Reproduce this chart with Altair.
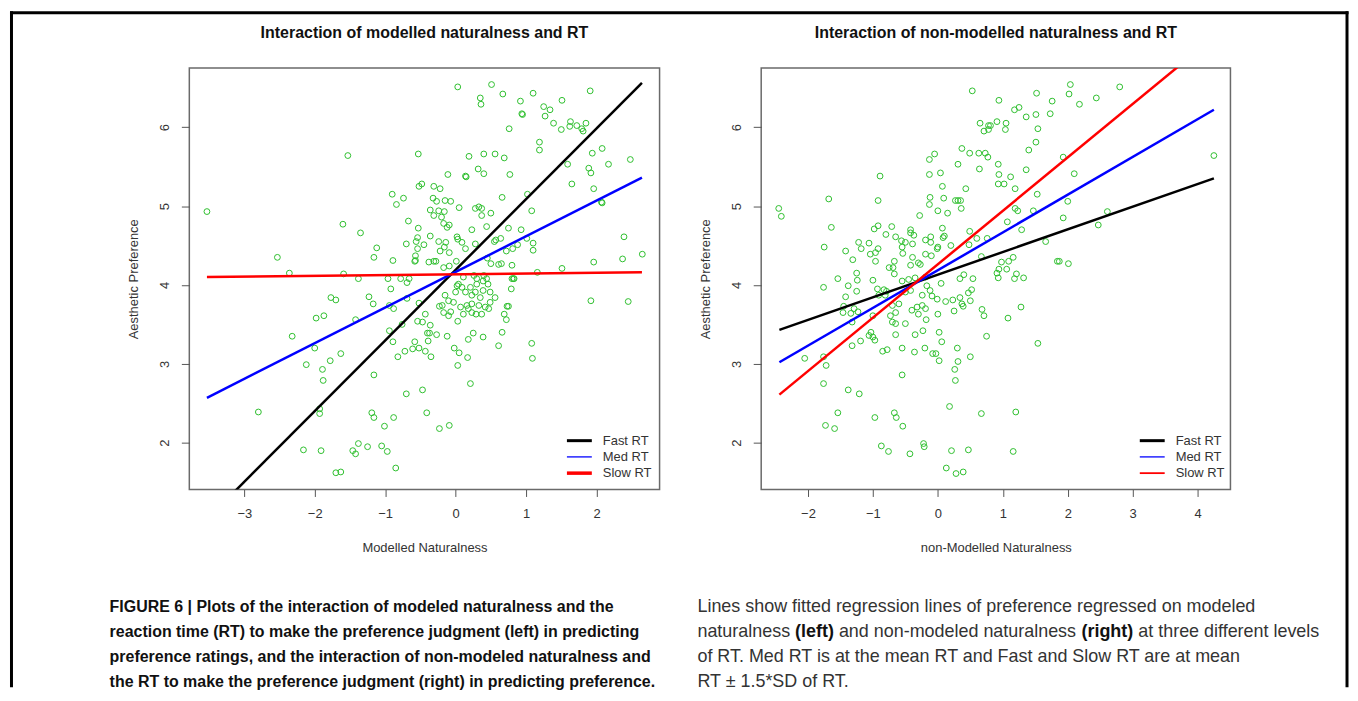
import altair as alt
import pandas as pd

FONT = "Liberation Sans"
GREEN = "#2fbf2f"
TXT = "#333333"

# ---------------- data: left panel (Modelled Naturalness vs Aesthetic Preference)
left_x_a = [0.03, -1.53, -0.53, -3.53, 0.19, 0.32, -0.11, 0.14, 0.15, -0.90,
            -0.74, -0.84, -0.52, -0.48, -0.31, -0.22, -0.32, -0.27, -0.15, -0.07,
            0.05, 0.28, 0.33, -0.36, -0.24, -0.16, -0.31, -0.20, -0.67, -1.60,
            -1.35, -0.53, -0.17, -0.09, -0.12, 0.23, -0.36, -0.54, -0.56, -0.45,
            -0.70, -0.54, -0.57, -0.57, -0.58, -0.24, -0.14, -0.16, -0.09, -0.22,
            0.02, 0.03, 0.09, 0.14, 0.28, -1.12, -1.16, -0.89, -2.53, -2.36,
            -1.59, -0.38, -0.31, -0.28, -0.17, -0.09, 0.01, -0.96, -0.78, -0.66,
            -1.38]
left_y_a = [6.51, 5.64, 5.66, 4.93, 5.63, 5.47, 5.40, 5.38, 5.37, 5.15,
            5.10, 5.02, 5.25, 5.28, 5.25, 5.22, 5.10, 5.06, 5.07, 5.06,
            4.98, 4.97, 4.99, 4.95, 4.94, 4.93, 4.88, 4.86, 4.81, 4.77,
            4.66, 4.72, 4.78, 4.76, 4.73, 4.70, 4.62, 4.60, 4.55, 4.51,
            4.52, 4.46, 4.37, 4.31, 4.30, 4.55, 4.54, 4.48, 4.41, 4.43,
            4.61, 4.58, 4.54, 4.46, 4.52, 4.47, 4.35, 4.31, 4.35, 4.15,
            4.14, 4.29, 4.30, 4.30, 4.22, 4.24, 4.30, 4.08, 4.08, 4.08,
            4.08]
left_x_b = [-1.77, -1.70, -1.23, -1.17, -0.92, -0.94, -0.88, -0.52, -0.69, -1.98,
            -1.87, -1.42, -2.32, -2.00, -1.63, -2.12, -1.89, -1.88, -1.78, -1.16,
            -0.94, -0.89, -0.82, -0.76, -0.72, -0.58, -0.61, -0.52, -0.43, -0.35,
            -0.54, -0.47, -0.36, -0.43, -0.40, -0.39, -0.37, -0.27, -0.12, -0.02,
            0.05, 0.17, 0.03, 0.21, 0.18, 0.25, -0.70, -0.47, -2.80, -1.93,
            -1.93, -1.19, -1.16, -0.88, -1.01, -0.41, -0.23, -0.09, -2.16, -1.91,
            -1.46, -1.42, -1.38, -1.25, -1.05, -0.97, -0.85, -1.70, -1.63]
left_y_b = [3.84, 3.81, 3.85, 3.76, 3.95, 3.74, 3.70, 3.77, 3.83, 3.58,
            3.61, 3.56, 3.35, 3.20, 3.13, 2.99, 2.93, 2.79, 3.04, 2.86,
            3.42, 3.28, 3.09, 3.50, 3.16, 3.28, 3.19, 3.20, 3.16, 3.09,
            3.54, 3.53, 3.49, 3.63, 3.39, 3.29, 3.39, 3.37, 3.35, 3.20,
            3.14, 3.08, 2.98, 2.75, 3.31, 3.39, 2.62, 2.67, 2.39, 2.37,
            2.43, 2.38, 2.32, 2.32, 2.21, 2.38, 2.18, 2.22, 1.91, 1.90,
            1.90, 1.86, 1.99, 1.95, 1.96, 1.89, 1.68, 1.62, 1.63]
left_x_c = [-0.69, 0.03, -0.10, -0.17, -0.07, -0.19, -0.23, -0.15, -0.10, -0.03,
            0.02, 0.04, 0.00, 0.09, 0.14, 0.21, 0.23, 0.28, 0.30, 0.18,
            0.23, 0.29, 0.11, 0.07, 0.16, 0.23, 0.33, 0.30, 0.11, 0.26,
            1.92, 2.45, 0.39, 0.46, 0.39, 0.49, 0.56, 0.49, 0.42, 0.47,
            0.37, 0.35, 0.80, 0.83, 0.79, 0.73, 0.75, 0.69, 0.72, 0.66,
            0.39, 0.61, 1.08, 1.09]
left_y_c = [4.03, 3.54, 3.61, 3.65, 3.66, 3.74, 3.73, 3.87, 3.80, 3.78,
            3.99, 4.01, 3.91, 3.97, 3.91, 3.97, 3.87, 3.91, 4.01, 3.70,
            3.65, 3.63, 3.63, 3.72, 3.74, 3.76, 3.74, 4.08, 4.10, 4.12,
            3.80, 3.79, 4.05, 4.01, 3.93, 3.91, 3.84, 3.78, 3.72, 3.70,
            3.63, 3.84, 4.08, 4.08, 3.95, 3.73, 3.73, 3.63, 3.56, 3.40,
            3.34, 3.23, 3.26, 3.07]
left_x_d = [0.51, 0.35, 0.36, 0.67, 0.92, 1.10, 1.51, 1.91, 0.94, 0.95,
            1.25, 1.34, 1.27, 1.39, 1.63, 1.72, 1.62, 1.81, 1.79, 1.85,
            1.50, 0.76, 1.19, 1.19, 0.40, 0.56, 0.69, 1.94, 2.08, 2.17,
            2.48, 1.89, 1.92, 1.59, 0.77, 0.40, 1.65, 1.96, 0.66, 1.02,
            2.07, 2.08, 1.08, 0.50, 0.44, 0.75, 0.93, 0.37, 0.37, 0.57,
            0.55, 0.64, 0.72, 0.81, 0.88, 1.01, 1.10, 1.10, 2.39, 2.65,
            2.37, 1.96, 1.51, 1.16, 0.61, 0.65, 0.80, 0.45, 0.50, 0.82,
            0.40, 0.44]
left_y_d = [6.54, 6.37, 6.29, 6.42, 6.33, 6.43, 6.34, 6.46, 6.17, 6.16,
            6.26, 6.22, 6.14, 6.05, 6.07, 6.02, 6.01, 5.95, 5.98, 6.05,
            5.97, 5.98, 5.81, 5.71, 5.66, 5.66, 5.61, 5.67, 5.73, 5.53,
            5.59, 5.48, 5.42, 5.53, 5.40, 5.41, 5.28, 5.22, 5.11, 5.15,
            5.05, 5.04, 4.94, 4.91, 4.74, 4.72, 4.70, 4.97, 4.88, 4.57,
            4.55, 4.59, 4.43, 4.46, 4.51, 4.59, 4.53, 4.44, 4.61, 4.39,
            4.33, 4.29, 4.21, 4.16, 4.26, 4.27, 4.25, 4.34, 4.27, 4.08,
            4.12, 4.08]

# ---------------- data: right panel (non-Modelled Naturalness)
right_x_a = [0.53, 0.94, 1.52, 1.76, 1.18, 1.25, 1.36, 1.51, 1.73, 0.65,
             0.78, 0.81, 0.91, 1.05, 0.71, 0.78, 1.04, 1.54, 1.51, 1.40,
             -0.13, -0.05, 0.04, -0.13, 0.37, 0.49, 0.63, 0.73, 0.77, 0.31,
             0.93, 0.64, 1.36, 0.94, 1.12, 0.93, 1.02, -0.89, -1.68, -0.92,
             -2.45, -2.41, 0.07, 0.43, 1.19, -0.12, -0.13, 0.09, 0.27, 0.31,
             0.35, 0.36, 0.00, 0.15, -0.28, 1.19, 1.23, 1.53, 1.47, -1.64,
             -1.75, -1.42, -1.31, -1.22, -1.18, -1.06, -1.04, -0.96, -0.92, -0.96,
             -0.98, -0.92, -0.80, -0.71, -0.65, -0.56, -0.50, -0.55, -0.54, -0.39,
             -0.42, -0.37, -0.42, -0.19, -0.11, -0.11, -0.01, 0.00, 0.07, 0.10,
             0.20, 0.08, -0.19, -0.10, -0.30, -0.27, -0.39, -0.42, -0.67, -0.69,
             -0.67, -0.75, -1.25, -1.54, -1.24, -1.00, -0.55, -0.45, -0.35, -0.19,
             0.49, 0.60, 0.76, 0.48, 1.07, 1.29, 0.67, 0.98, 1.09, 1.16,
             0.94, 0.91, 1.06, 1.21, 1.32, 0.93, 0.34, 0.54, 0.40, 1.66,
             1.84]
right_y_a = [6.46, 6.34, 6.43, 6.33, 6.22, 6.25, 6.13, 6.16, 6.17, 6.05,
             6.02, 6.02, 6.07, 6.05, 5.95, 5.97, 5.97, 5.98, 5.81, 5.71,
             5.59, 5.66, 5.42, 5.40, 5.73, 5.67, 5.67, 5.67, 5.62, 5.53,
             5.53, 5.47, 5.46, 5.40, 5.37, 5.28, 5.28, 5.38, 5.09, 5.07,
             4.97, 4.87, 5.25, 5.22, 5.22, 5.11, 5.02, 5.10, 5.07, 5.07,
             5.07, 4.97, 4.94, 4.91, 4.88, 4.97, 4.94, 5.15, 4.94, 4.73,
             4.48, 4.43, 4.32, 4.54, 4.46, 4.53, 4.39, 4.41, 4.46, 4.30,
             4.71, 4.75, 4.64, 4.74, 4.61, 4.56, 4.54, 4.48, 4.40, 4.52,
             4.70, 4.63, 4.66, 4.57, 4.61, 4.54, 4.46, 4.48, 4.72, 4.62,
             4.50, 4.60, 4.39, 4.37, 4.28, 4.26, 4.35, 4.25, 4.30, 4.22,
             4.14, 4.22, 4.15, 4.08, 4.06, 4.06, 4.05, 4.07, 4.09, 4.10,
             4.68, 4.59, 4.59, 4.51, 4.80, 4.70, 4.36, 4.29, 4.30, 4.35,
             4.20, 4.15, 4.20, 4.14, 4.09, 4.09, 4.08, 4.08, 4.13, 4.55,
             4.30]
right_x_b = [2.04, 2.02, 2.44, 2.80, 2.18, 4.25, 1.93, 2.10, 2.00, 1.93, 2.61, 2.47, 1.87, 2.01]
right_y_b = [6.54, 6.42, 6.37, 6.51, 6.29, 5.64, 5.62, 5.41, 5.06, 4.85, 4.93, 4.76, 4.30, 4.27]
right_x_c = [-1.76, -1.38, -1.25, -1.42, -1.45, -1.46, -1.34, -1.29, -1.23, -1.32,
             -0.93, -0.83, -0.79, -0.91, -0.81, -0.70, -0.65, -0.70, -0.65, -0.73,
             -0.60, -0.50, -0.42, -0.40, -0.32, -0.30, -0.24, -0.19, -0.17, -0.24,
             -0.09, -0.01, -0.12, -1.00, -1.03, -1.00, -0.97, -1.06, -0.65, -1.19,
             -1.32, -0.85, -0.78, -0.55, -0.50, -0.36, -0.35, -0.23, -0.20, -0.18,
             -0.08, -0.03, 0.02, 0.02, 0.06, 0.00, 0.05, 0.12, 0.23, 0.34,
             0.37, 0.39, 0.50, 0.52, 0.47, 0.25, 0.30, 0.31, 0.26, 0.27,
             0.50, 0.68, 0.71, 0.75, 1.08, 1.28, 1.18, 1.54, -2.05, -1.76,
             -1.72, -1.76, -1.38, -1.21, -0.55, -1.54, -1.73, -1.59, -0.97, -0.67,
             -0.64, -0.54, 0.18, 0.67, 1.20, -0.87, -0.76, -0.43, -0.22, -0.21,
             0.21, 0.47, 1.16, 0.13, 0.28, 0.39]
right_y_c = [3.97, 3.99, 3.92, 3.85, 3.73, 3.65, 3.64, 3.70, 3.66, 3.53,
             3.95, 3.94, 3.92, 3.87, 3.87, 3.74, 3.65, 3.53, 3.51, 3.61,
             3.76, 3.91, 3.93, 3.68, 3.72, 3.63, 3.74, 3.70, 3.99, 3.87,
             3.86, 3.82, 3.93, 3.61, 3.40, 3.34, 3.30, 3.36, 3.37, 3.29,
             3.23, 3.16, 3.18, 3.20, 3.51, 3.15, 3.37, 3.42, 3.20, 3.56,
             3.13, 3.13, 3.04, 3.40, 3.28, 3.63, 4.02, 3.79, 3.81, 3.84,
             3.76, 3.73, 3.80, 3.94, 3.90, 3.67, 3.20, 3.03, 2.93, 2.79,
             3.09, 3.69, 3.61, 3.35, 3.58, 3.72, 4.08, 3.26, 3.07, 3.09,
             2.98, 2.75, 2.67, 2.62, 2.86, 2.38, 2.22, 2.18, 2.32, 2.38,
             2.32, 2.21, 2.46, 2.37, 2.39, 1.96, 1.89, 1.86, 1.99, 1.95,
             1.90, 1.91, 1.89, 1.68, 1.61, 1.63]

left_x = left_x_a + left_x_b + left_x_c + left_x_d
left_y = left_y_a + left_y_b + left_y_c + left_y_d
right_x = right_x_a + right_x_b + right_x_c
right_y = right_y_a + right_y_b + right_y_c

# ---------------- fitted lines (end points)
rt_levels = ["Fast RT", "Med RT", "Slow RT"]
rt_colors = ["#000000", "#0000ff", "#ff0000"]
left_line_x0 = [-3.53, -3.53, -3.53]
left_line_x1 = [2.645, 2.645, 2.645]
left_line_y0 = [1.03, 2.57, 4.10]
left_line_y1 = [6.56, 5.36, 4.16]
right_line_x0 = [-2.44, -2.44, -2.44]
right_line_x1 = [4.25, 4.25, 4.25]
right_line_y0 = [3.43, 3.02, 2.61]
right_line_y1 = [5.35, 6.22, 7.14]

left_xticks = [-3, -2, -1, 0, 1, 2]
right_xticks = [-2, -1, 0, 1, 2, 3, 4]
yticks = [2, 3, 4, 5, 6]

cap_left = [
    "FIGURE 6 | Plots of the interaction of modeled naturalness and the",
    "reaction time (RT) to make the preference judgment (left) in predicting",
    "preference ratings, and the interaction of non-modeled naturalness and",
    "the RT to make the preference judgment (right) in predicting preference.",
]
cap_right_1 = "Lines show fitted regression lines of preference regressed on modeled"
cap_right_2 = [("naturalness", "normal", 0.0), ("(left)", "bold", 98.0),
               ("and non-modeled naturalness", "normal", 142.0),
               ("(right)", "bold", 385.5), ("at three different levels", "normal", 442.5)]
cap_right_3 = "of RT. Med RT is at the mean RT and Fast and Slow RT are at mean"
cap_right_4 = "RT \u00b1 1.5*SD of RT."

Y_DOMAIN = [1.408, 6.749]
PLOT_H = 423


def make_panel(xs, ys, x0, x1, y0, y1, xdom, xticks, width, title, xtitle, legend_lw, leg_x):
    pts = pd.DataFrame({"x": xs, "y": ys})
    xscale = alt.Scale(domain=xdom, nice=False, zero=False)
    yscale = alt.Scale(domain=Y_DOMAIN, nice=False, zero=False)
    xaxis = alt.Axis(values=xticks, title=xtitle, grid=False, domain=False, tickSize=7,
                     tickColor="#555555", tickWidth=1, labelFont=FONT, labelFontSize=13,
                     labelColor=TXT, labelPadding=11, labelFlush=False,
                     titleFont=FONT, titleFontSize=13, titleFontWeight="normal",
                     titleColor=TXT, titleX=width / 2, titleY=58, titleBaseline="middle",
                     titleAlign="center", format="d")
    yaxis = alt.Axis(values=yticks, title="Aesthetic Preference", grid=False, domain=False,
                     tickSize=8, tickColor="#555555", tickWidth=1, labelFont=FONT,
                     labelFontSize=13, labelColor=TXT, labelAngle=270, labelAlign="center",
                     labelBaseline="bottom", labelPadding=10, labelFlush=False,
                     titleFont=FONT, titleFontSize=13, titleFontWeight="normal",
                     titleColor=TXT, titleAngle=270, titleX=-56, titleY=PLOT_H / 2,
                     titleAlign="center", titleBaseline="middle", format="d")
    xenc = alt.X("x:Q", scale=xscale, axis=xaxis)
    yenc = alt.Y("y:Q", scale=yscale, axis=yaxis)
    layers = [alt.Chart(pts).mark_point(shape="circle", filled=False, size=34,
                                        strokeWidth=1, color=GREEN, opacity=1)
              .encode(x=xenc, y=yenc)]
    for i in range(3):
        df = pd.DataFrame({"x": [x0[i], x1[i]], "y": [y0[i], y1[i]]})
        layers.append(alt.Chart(df).mark_line(clip=True, color=rt_colors[i], strokeWidth=2.5)
                      .encode(x=xenc, y=yenc))
    for i in range(3):
        ly = 374 + 16.3 * i
        ldf = pd.DataFrame({"label": [rt_levels[i]]})
        layers.append(alt.Chart(ldf).mark_rule(color=rt_colors[i], strokeWidth=legend_lw[i])
                      .encode(x=alt.value(leg_x), x2=alt.value(leg_x + 25), y=alt.value(ly)))
        layers.append(alt.Chart(ldf).mark_text(align="left", baseline="middle", font=FONT,
                                               fontSize=13, color=TXT)
                      .encode(x=alt.value(leg_x + 36), y=alt.value(ly), text="label:N"))
    return alt.layer(*layers).properties(
        width=width, height=PLOT_H,
        title=alt.TitleParams(title, font=FONT, fontSize=16, fontWeight="bold", color="#111111",
                              anchor="middle", baseline="middle", offset=19),
        view=alt.ViewBackground(stroke="#6a6a6a", strokeWidth=1.5),
    )


left = make_panel(left_x, left_y, left_line_x0, left_line_x1, left_line_y0, left_line_y1,
                  [-3.78, 2.895], left_xticks, 472,
                  "Interaction of modelled naturalness and RT", "Modelled Naturalness",
                  [3, 1.3, 3.5], 379)
right = make_panel(right_x, right_y, right_line_x0, right_line_x1, right_line_y0, right_line_y1,
                   [-2.72, 4.505], right_xticks, 471,
                   "Interaction of non-modelled naturalness and RT", "non-Modelled Naturalness",
                   [3, 1.3, 1.8], 380)

# ---------------- caption + outer frame
cap_layers = []
one = pd.DataFrame({"k": [0]})
frame_style = dict(color="black", strokeWidth=3, strokeCap="square")
cap_layers.append(alt.Chart(one).mark_rule(**frame_style).encode(
    x=alt.value(-178.5), y=alt.value(-490.5), y2=alt.value(185)))
cap_layers.append(alt.Chart(one).mark_rule(**frame_style).encode(
    x=alt.value(-178.5), x2=alt.value(1162), y=alt.value(-490.5)))
cap_layers.append(alt.Chart(one).mark_rule(**frame_style).encode(
    x=alt.value(1162), y=alt.value(-490.5), y2=alt.value(185)))

for i, line in enumerate(cap_left):
    cap_layers.append(alt.Chart(pd.DataFrame({"t": [line]})).mark_text(
        align="left", baseline="middle", font=FONT, fontSize=16, fontWeight="bold",
        color="#111111").encode(x=alt.value(-80), y=alt.value(106 + 25 * i), text="t:N"))

RX = 510
for row, line in [(0, cap_right_1), (2, cap_right_3), (3, cap_right_4)]:
    cap_layers.append(alt.Chart(pd.DataFrame({"t": [line]})).mark_text(
        align="left", baseline="middle", font=FONT, fontSize=18, color="#333333")
        .encode(x=alt.value(RX), y=alt.value(106 + 25 * row), text="t:N"))
for seg, weight, off in cap_right_2:
    cap_layers.append(alt.Chart(pd.DataFrame({"t": [seg]})).mark_text(
        align="left", baseline="middle", font=FONT, fontSize=18, fontWeight=weight,
        color="#333333" if weight == "normal" else "#111111")
        .encode(x=alt.value(RX + off), y=alt.value(131), text="t:N"))

caption = alt.layer(*cap_layers).properties(
    width=472, height=180, view=alt.ViewBackground(stroke="transparent"))

chart = alt.concat(left, right, caption, columns=2,
                   spacing={"row": 12, "column": 102}, bounds="flush").properties(
    padding=0, background="white")

chart.save("out.html", embed_options={"renderer": "svg", "actions": False})
